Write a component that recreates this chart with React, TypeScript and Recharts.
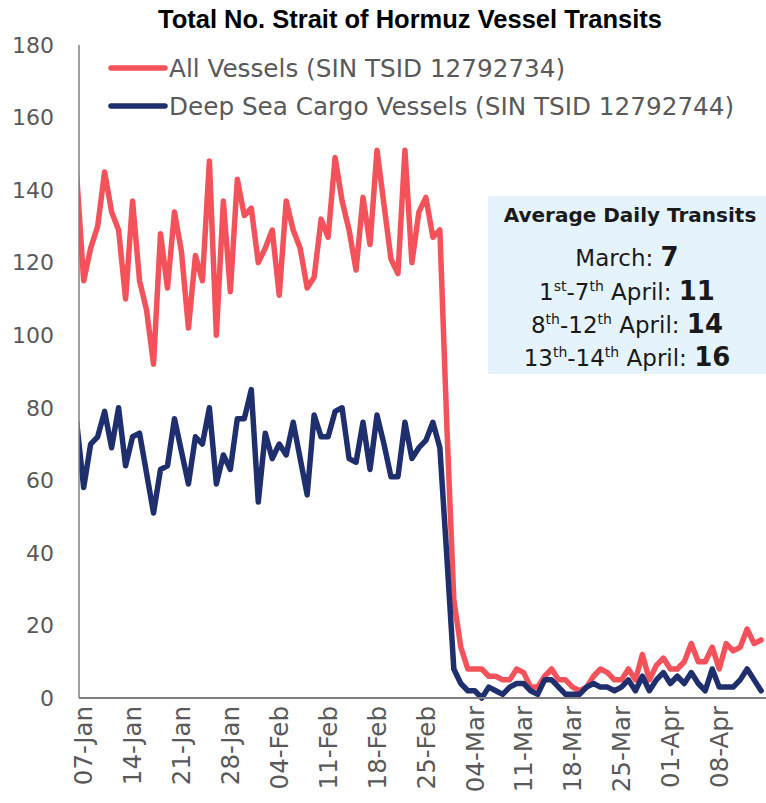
import React from 'react';
import { LineChart, Line, XAxis, YAxis } from 'recharts';

// day 0 = 07-Jan, day 97 = 14-Apr. Day -1 (06-Jan) sits left of the axis and gets clipped.
const firstDay = -1;

const tickDays = [0, 7, 14, 21, 28, 35, 42, 49, 56, 63, 70, 77, 84, 91];
const tickLabels = [
  '07-Jan', '14-Jan', '21-Jan', '28-Jan', '04-Feb', '11-Feb', '18-Feb',
  '25-Feb', '04-Mar', '11-Mar', '18-Mar', '25-Mar', '01-Apr', '08-Apr',
];
const yTicks = [0, 20, 40, 60, 80, 100, 120, 140, 160, 180];

const allVessels = [
  144,
  115, 124, 130, 145, 134, 129, 110, 137, 115, 107,
  92, 128, 113, 134, 123, 102, 122, 115, 148, 100,
  137, 112, 143, 133, 135, 120, 124, 129, 111, 137,
  129, 124, 113, 116, 132, 127, 149, 137, 129, 118,
  138, 125, 151, 136, 121, 117, 151, 120, 134, 138,
  127, 129, 75,
  27, 14, 8, 8, 8, 6, 6,
  5, 5, 8, 7, 3, 3, 6, 8, 5, 5,
  3, 2, 3, 6, 8, 7, 5, 5, 8, 5,
  12, 5, 9, 11, 8, 8, 10, 15, 10, 10,
  14, 8, 15, 13, 14, 19, 15, 16,
];

const deepSeaCargo = [
  76,
  58, 70, 72, 79, 69, 80, 64, 72, 73, 62,
  51, 63, 64, 77, 68, 59, 72, 70, 80, 59,
  67, 63, 77, 77, 85, 54, 73, 66, 70, 67,
  76, 66, 56, 78, 72, 72, 79, 80, 66, 65,
  76, 63, 78, 70, 61, 61, 76, 66, 69, 71,
  76, 69, 39,
  8, 4, 2, 2, 0, 3, 2,
  1, 3, 4, 4, 2, 1, 5, 5, 3, 1,
  1, 1, 3, 4, 3, 3, 2, 3, 5, 2,
  6, 2, 5, 7, 4, 6, 4, 7, 4, 2,
  8, 3, 3, 3, 5, 8, 5, 2,
];

const RED = '#F4525A';
const NAVY = '#1F2F6E';
const GREY = '#595959';
const FONT = "'DejaVu Sans', Verdana, sans-serif";

const chartData = allVessels.map((v, i) => ({
  day: firstDay + i,
  all: v,
  deep: deepSeaCargo[i],
}));

const DateTick = (props: any) => {
  const { x, y, payload } = props;
  const label = tickLabels[tickDays.indexOf(payload.value)];
  return (
    <text
      x={x}
      y={y}
      transform={`rotate(-90, ${x}, ${y})`}
      textAnchor="end"
      dy="0.36em"
      fill={GREY}
      fontSize={24.5}
      fontFamily={FONT}
    >
      {label}
    </text>
  );
};

// one line of the averages box: [day range parts], superscripts raised with dy
const AvgLine = ({ y, parts, value }: { y: number; parts: [string, string][]; value: string }) => (
  <text x={627} y={y} fontSize={23}>
    {parts.map(([num, sup], i) => (
      <React.Fragment key={i}>
        <tspan dy={i === 0 ? 0 : 9}>{(i > 0 ? '-' : '') + num}</tspan>
        <tspan fontSize={14} dy={-9}>{sup}</tspan>
      </React.Fragment>
    ))}
    <tspan dy={9}>{' April: '}</tspan>
    <tspan fontWeight="bold" fontSize={26}>{value}</tspan>
  </text>
);

export default function App() {
  return (
    <div style={{ position: 'absolute', left: 0, top: 0, width: 766, height: 803, background: '#fff' }}>
      <LineChart
        width={766}
        height={803}
        data={chartData}
        margin={{ top: 45, right: 0, bottom: 0, left: 0 }}
      >
        <XAxis
          type="number"
          dataKey="day"
          domain={[-0.67, 97.7]}
          allowDataOverflow
          ticks={tickDays}
          interval={0}
          tickLine={false}
          tickSize={0}
          tickMargin={8}
          height={105}
          axisLine={{ stroke: '#7f7f7f', strokeWidth: 2 }}
          tick={<DateTick />}
        />
        <YAxis
          domain={[0, 180]}
          ticks={yTicks}
          interval={0}
          width={79}
          tickLine={false}
          tickSize={0}
          tickMargin={25}
          axisLine={{ stroke: '#7f7f7f', strokeWidth: 1.5 }}
          tick={{ fill: GREY, fontSize: 22, fontFamily: FONT }}
        />
        <Line
          type="linear"
          dataKey="all"
          stroke={RED}
          strokeWidth={5.5}
          strokeLinejoin="round"
          strokeLinecap="round"
          dot={false}
          isAnimationActive={false}
        />
        <Line
          type="linear"
          dataKey="deep"
          stroke={NAVY}
          strokeWidth={5.5}
          strokeLinejoin="round"
          strokeLinecap="round"
          dot={false}
          isAnimationActive={false}
        />
      </LineChart>

      <svg
        width={766}
        height={803}
        style={{ position: 'absolute', left: 0, top: 0, pointerEvents: 'none' }}
      >
        <text x={410} y={28} textAnchor="middle" fontSize={25.5} fontWeight="bold" fontFamily="'Liberation Sans', Arial, sans-serif" fill="#000">
          Total No. Strait of Hormuz Vessel Transits
        </text>

        {/* legend */}
        <line x1={111} x2={165} y1={68} y2={68} stroke={RED} strokeWidth={5.5} strokeLinecap="round" />
        <text x={169} y={68} dy="0.36em" fontSize={24.7} fontFamily={FONT} fill={GREY}>
          All Vessels (SIN TSID 12792734)
        </text>
        <line x1={111} x2={165} y1={106} y2={106} stroke={NAVY} strokeWidth={5.5} strokeLinecap="round" />
        <text x={169} y={106} dy="0.36em" fontSize={24.7} fontFamily={FONT} fill={GREY}>
          Deep Sea Cargo Vessels (SIN TSID 12792744)
        </text>

        {/* average box */}
        <rect x={488} y={196} width={278} height={178} fill="#E5F4FC" />
        <g fontFamily={FONT} fill="#1a1a1a" textAnchor="middle">
          <text x={630} y={222} fontSize={20} fontWeight="bold">Average Daily Transits</text>
          <text x={627} y={266} fontSize={23}>
            March: <tspan fontWeight="bold" fontSize={26}>7</tspan>
          </text>
          <AvgLine y={300} parts={[['1', 'st'], ['7', 'th']]} value="11" />
          <AvgLine y={333} parts={[['8', 'th'], ['12', 'th']]} value="14" />
          <AvgLine y={366} parts={[['13', 'th'], ['14', 'th']]} value="16" />
        </g>
      </svg>
    </div>
  );
}
